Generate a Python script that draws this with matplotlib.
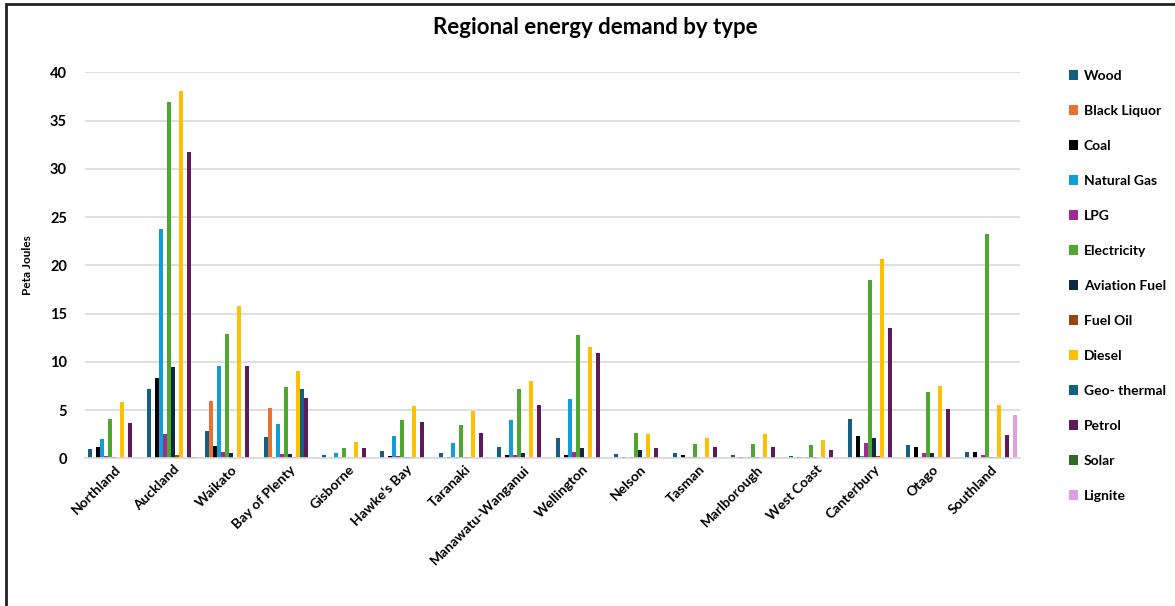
import numpy as np
import matplotlib
matplotlib.use('Agg')
import matplotlib.pyplot as plt
from matplotlib.patches import Rectangle

regions = ['Northland', 'Auckland', 'Waikato', 'Bay of Plenty', 'Gisborne', "Hawke's Bay",
           'Taranaki', 'Manawatu-Wanganui', 'Wellington', 'Nelson', 'Tasman',
           'Marlborough', 'West Coast', 'Canterbury', 'Otago', 'Southland']

# Peta Joules per region, one list per fuel type
wood = [1.0, 7.2, 2.8, 2.25, 0.3, 0.75, 0.5, 1.15, 2.1, 0.4, 0.6, 0.3, 0.25, 4.1, 1.35, 0.65]
black_liquor = [0, 0, 5.9, 5.2, 0, 0, 0, 0, 0, 0, 0, 0, 0, 0, 0, 0]
coal = [1.2, 8.3, 1.3, 0.15, 0, 0.25, 0.1, 0.3, 0.3, 0.15, 0.35, 0.15, 0.15, 2.3, 1.2, 0.65]
natural_gas = [2.0, 23.8, 9.6, 3.55, 0.6, 2.3, 1.55, 4.0, 6.1, 0, 0.1, 0, 0, 0.25, 0.1, 0]
lpg = [0.25, 2.5, 0.65, 0.45, 0.1, 0.2, 0.1, 0.35, 0.65, 0.1, 0.1, 0.1, 0.1, 1.6, 0.5, 0.3]
electricity = [4.1, 36.9, 12.9, 7.4, 1.1, 3.95, 3.5, 7.2, 12.75, 2.65, 1.5, 1.5, 1.35, 18.5, 6.85, 23.2]
aviation_fuel = [0.15, 9.45, 0.6, 0.45, 0, 0.15, 0.15, 0.5, 1.1, 0.85, 0, 0.1, 0.15, 2.1, 0.5, 0.15]
fuel_oil = [0, 0.35, 0, 0.15, 0, 0.1, 0.1, 0, 0.1, 0.1, 0, 0, 0, 0.2, 0.1, 0.15]
diesel = [5.8, 38.1, 15.8, 9.0, 1.7, 5.4, 4.85, 8.05, 11.5, 2.55, 2.15, 2.55, 1.9, 20.65, 7.5, 5.5]
geothermal = [0, 0, 0.1, 7.2, 0, 0, 0, 0, 0, 0, 0, 0, 0, 0, 0, 0]
petrol = [3.65, 31.7, 9.55, 6.25, 1.1, 3.75, 2.65, 5.55, 10.95, 1.1, 1.2, 1.2, 0.85, 13.5, 5.1, 2.4]
solar = [0, 0.1, 0, 0, 0, 0, 0, 0, 0, 0, 0, 0, 0, 0, 0, 0]
lignite = [0, 0, 0, 0, 0, 0, 0, 0, 0, 0, 0, 0, 0, 0, 0, 4.45]

series = [
    ('Wood', wood, '#156082'),
    ('Black Liquor', black_liquor, '#E97132'),
    ('Coal', coal, '#000000'),
    ('Natural Gas', natural_gas, '#0F9ED5'),
    ('LPG', lpg, '#A02B93'),
    ('Electricity', electricity, '#4EA72E'),
    ('Aviation Fuel', aviation_fuel, '#0E2841'),
    ('Fuel Oil', fuel_oil, '#9C4515'),
    ('Diesel', diesel, '#FFC000'),
    ('Geo- thermal', geothermal, '#14617F'),
    ('Petrol', petrol, '#5F1A5B'),
    ('Solar', solar, '#2E6B23'),
    ('Lignite', lignite, '#E59EDD'),
]

plt.rcParams['font.family'] = ['Lato', 'DejaVu Sans']
plt.rcParams['font.weight'] = 'bold'

fig = plt.figure(figsize=(11.75, 6.06), dpi=100)
ax = fig.add_axes([85 / 1175, 1 - 458.3 / 606, 935 / 1175, (458.3 - 72.3) / 606])

x = np.arange(len(regions))
width = 4.0 / 58.4
n = len(series)
for j, (name, vals, color) in enumerate(series):
    ax.bar(x + (j - (n - 1) / 2) * width, vals, width, color=color, label=name,
           linewidth=0)

ax.set_xlim(-0.5, len(regions) - 0.5)
ax.set_ylim(0, 40)
ax.set_yticks(range(0, 41, 5))
ax.grid(axis='y', color='#D9D9D9', linewidth=1.2)
ax.set_axisbelow(True)
for s in ['top', 'right', 'left']:
    ax.spines[s].set_visible(False)
ax.spines['bottom'].set_color('#D9D9D9')
ax.spines['bottom'].set_linewidth(1.2)
ax.tick_params(length=0)
ax.tick_params(axis='y', pad=13, labelsize=10.5)
ax.set_xticks(x)
ax.set_xticklabels(regions, rotation=45, ha='right', va='top', rotation_mode='anchor',
                   fontsize=10, fontweight='bold')
for lbl in ax.get_yticklabels():
    lbl.set_fontweight('bold')
ax.set_ylabel('Peta Joules', fontsize=8.5, fontweight='bold', labelpad=12)
ax.yaxis.set_label_coords(-52 / 935, 0.5)

fig.text(595 / 1175, 1 - 27 / 606, 'Regional energy demand by type', ha='center',
         va='center', fontsize=16, fontweight='bold')

ax.legend(loc='upper left', bbox_to_anchor=(1056 / 1175, 1 - 57 / 606),
          bbox_transform=fig.transFigure, frameon=False,
          handlelength=0.7, handleheight=0.7, handletextpad=0.4, labelspacing=1.66,
          prop={'weight': 'bold', 'size': 10})

# outer frame of the chart
fig.patches.append(Rectangle((6 / 1175, -0.1), 1.2, 1 - 4 / 606 + 0.1,
                             transform=fig.transFigure, fill=False,
                             edgecolor='#222222', linewidth=2))

fig.savefig('out.png', dpi=100)
